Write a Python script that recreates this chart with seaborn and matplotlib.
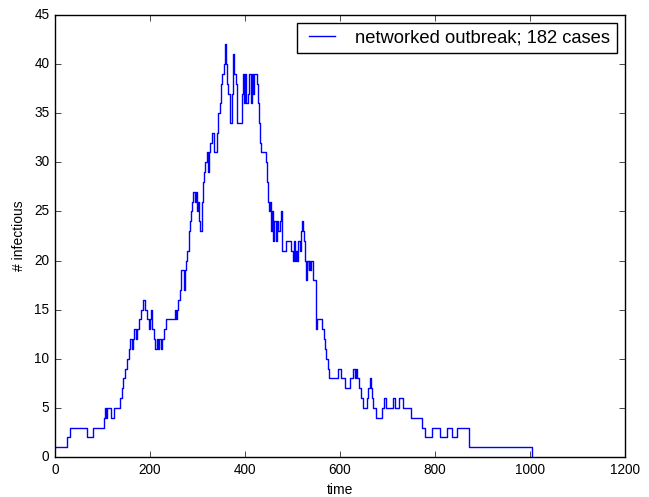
import matplotlib
matplotlib.use('Agg')
import matplotlib.pyplot as plt
import seaborn as sns
import pandas as pd

# Step change points (time, # infectious)
times = [0, 25, 32, 68, 80, 103, 105, 108, 110, 119, 124, 136, 141, 144, 148, 152,
         156, 159, 162, 164, 166, 170, 172, 176, 181, 186, 190, 193, 197, 200, 202,
         205, 208, 211, 214, 217, 220, 223, 226, 229, 233, 252, 255, 257, 260, 263,
         265, 271, 273, 276, 279, 282, 285, 287, 289, 291, 295, 297, 299, 301, 303,
         306, 309, 312, 314, 317, 320, 323, 325, 327, 330, 334, 341, 343, 347, 350,
         352, 355, 358, 361, 363, 365, 369, 372, 375, 378, 381, 384, 393, 395, 398,
         401, 403, 406, 409, 412, 415, 418, 420, 426, 428, 430, 432, 434, 445, 447,
         449, 451, 453, 455, 458, 460, 462, 465, 467, 470, 473, 476, 479, 486, 498,
         501, 503, 505, 507, 509, 512, 515, 518, 520, 522, 524, 526, 528, 531, 534,
         536, 538, 540, 544, 549, 552, 563, 566, 568, 571, 574, 577, 596, 602, 611,
         621, 628, 631, 633, 636, 640, 644, 648, 657, 660, 663, 666, 668, 670, 676,
         688, 693, 697, 712, 716, 724, 733, 750, 773, 779, 794, 810, 826, 836, 846,
         872, 1005]
infectious = [1, 2, 3, 2, 3, 4, 5, 4, 5, 4, 5, 6, 7, 8, 9, 10,
              11, 12, 11, 12, 13, 12, 13, 14, 15, 16, 15, 14, 13, 14, 15,
              13, 12, 11, 12, 11, 12, 11, 12, 13, 14, 15, 14, 15, 16, 17,
              19, 17, 19, 20, 21, 23, 24, 25, 26, 27, 26, 27, 25, 26, 24,
              23, 26, 28, 29, 30, 31, 29, 31, 32, 33, 31, 33, 35, 36, 38,
              39, 40, 42, 40, 38, 37, 34, 37, 41, 39, 38, 34, 37, 39, 36,
              39, 36, 37, 39, 36, 39, 37, 39, 38, 36, 34, 32, 31, 30, 28,
              26, 25, 26, 23, 25, 22, 24, 22, 24, 23, 24, 25, 21, 22, 21,
              20, 22, 20, 21, 20, 22, 21, 23, 24, 23, 22, 20, 18, 20, 19,
              20, 19, 20, 18, 13, 14, 13, 12, 11, 10, 9, 8, 9, 8, 7,
              8, 9, 8, 9, 8, 7, 6, 5, 6, 7, 8, 7, 6, 5, 4,
              5, 6, 5, 6, 5, 6, 5, 4, 3, 2, 3, 2, 3, 2, 3,
              1, 0]
legend_label = 'networked outbreak; 182 cases'
x_ticks = [0, 200, 400, 600, 800, 1000, 1200]
y_ticks = [0, 5, 10, 15, 20, 25, 30, 35, 40, 45]

plt.style.use('classic')
plt.rcParams['font.family'] = ['Liberation Sans', 'DejaVu Sans']

fig = plt.figure(figsize=(6.49, 4.97), dpi=100)
fig.patch.set_facecolor('white')
ax = fig.add_axes([0.0847, 0.0805, 0.878, 0.8895])

df = pd.DataFrame({'time': times, 'infectious': infectious})
sns.lineplot(data=df, x='time', y='infectious', drawstyle='steps-post',
             color='b', lw=1.0, estimator=None, label=legend_label, ax=ax)

ax.set_xlim(0, 1200)
ax.set_ylim(0, 45)
ax.set_xticks(x_ticks)
ax.set_yticks(y_ticks)
ax.tick_params(labelsize=9.8, direction='in', top=True, right=True, length=4)
ax.set_xlabel('time', fontsize=10, labelpad=5)
ax.set_ylabel('# infectious', fontsize=10, labelpad=6)

leg = ax.legend(loc='upper right', fontsize=13.2, fancybox=False, frameon=True,
                handlelength=2.0, borderaxespad=0.45, borderpad=0.35)
leg.get_frame().set_edgecolor('black')

fig.savefig('out.png', dpi=100, facecolor='white')
